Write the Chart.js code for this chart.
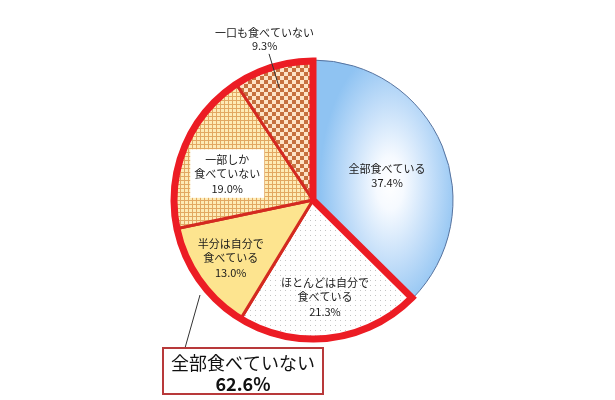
<!DOCTYPE html>
<html>
<head>
<meta charset="utf-8">
<script src="https://cdn.jsdelivr.net/npm/chart.js@4"></script>
<style>
  html,body{margin:0;padding:0;background:#fff;}
  #wrap{width:615px;height:400px;}
</style>
</head>
<body>
<div id="wrap"><canvas id="pie" width="615" height="400"></canvas></div>
<script>
// data
const categories = ['全部食べている','ほとんどは自分で食べている','半分は自分で食べている','一部しか食べていない','一口も食べていない'];
const labelLines = [['全部食べている'],['ほとんどは自分で','食べている'],['半分は自分で','食べている'],['一部しか','食べていない'],['一口も食べていない']];
const shares = [37.4, 21.3, 13.0, 19.0, 9.3];
const calloutLabel = '全部食べていない';
const calloutValue = 62.6;

// label placement (radius fraction, angle nudge in degrees)
const labelRadius = [0.556, 0.70, 0.72, 0.64, 1.2];
const labelNudge = [4.7, 0, 0, -5.5, 0];

const PAD = {left:173, right:162, top:60, bottom:60};
const RADIUS = 140;
const FONT = '"Noto Sans CJK JP", "Noto Sans", sans-serif';
const canvas = document.getElementById('pie');
const ctx = canvas.getContext('2d');

function tile(size, draw){
    const c = document.createElement('canvas');
    c.width = c.height = size;
    draw(c.getContext('2d'), size);
    return ctx.createPattern(c, 'repeat');
}

const dots = tile(5, (g,s)=>{ g.fillStyle='#fff'; g.fillRect(0,0,s,s); g.fillStyle='#c4c4c4'; g.fillRect(0,0,1,1); });
const grid = tile(4, (g,s)=>{ g.fillStyle='#fdebb6'; g.fillRect(0,0,s,s); g.fillStyle='#e2a862'; g.fillRect(0,0,s,1); g.fillRect(0,0,1,s); });
const checker = tile(8, (g,s)=>{ g.fillStyle='#fde3c6'; g.fillRect(0,0,s,s); g.fillStyle='#c6703e'; g.fillRect(0,0,4,4); g.fillRect(4,4,4,4); });

// soft blue fill, lighter towards the middle of the slice
function blueShade(){
    const W = canvas.width, H = canvas.height;
    const cx = (PAD.left + W - PAD.right)/2, cy = (PAD.top + H - PAD.bottom)/2;
    const off = document.createElement('canvas');
    off.width = W; off.height = H;
    const g = off.getContext('2d');
    g.save();
    g.translate(cx + RADIUS*0.55, cy - RADIUS*0.12);
    g.scale(1, 1.9);
    const gr = g.createRadialGradient(0,0,0,0,0,RADIUS*0.5);
    gr.addColorStop(0, '#ffffff');
    gr.addColorStop(0.2, '#f6faff');
    gr.addColorStop(0.6, '#c3def9');
    gr.addColorStop(1, '#8fc3f2');
    g.fillStyle = gr;
    g.fillRect(-W, -H, W*2, H*2);
    g.restore();
    return ctx.createPattern(off, 'no-repeat');
}
const blue = blueShade();

const decor = {
    id:'decor',
    afterDatasetsDraw(chart){
        const c = chart.ctx;
        const arcs = chart.getDatasetMeta(0).data;
        const cx = arcs[0].x, cy = arcs[0].y, r = arcs[0].outerRadius;

        // thick outline round the "not all eaten" slices
        c.save();
        c.beginPath();
        c.moveTo(cx, cy);
        c.arc(cx, cy, r-1, arcs[1].startAngle, arcs[arcs.length-1].endAngle);
        c.closePath();
        c.lineWidth = 7;
        c.lineJoin = 'miter';
        c.strokeStyle = '#ec1c24';
        c.stroke();
        c.restore();

        // slice labels
        c.save();
        c.textAlign = 'center';
        c.textBaseline = 'middle';
        c.font = '11px ' + FONT;
        arcs.forEach((arc,i)=>{
            const mid = (arc.startAngle+arc.endAngle)/2 + labelNudge[i]*Math.PI/180;
            const lines = labelLines[i].concat([shares[i].toFixed(1)+'%']);
            const outside = labelRadius[i] > 1;
            const lh = outside ? 12.5 : 14.5;
            const px = cx + Math.cos(mid)*r*labelRadius[i];
            const py = cy + Math.sin(mid)*r*labelRadius[i];
            const top = py - lh*(lines.length-1)/2;
            if(i === 3){
                const w = Math.max(...lines.map(t=>c.measureText(t).width)) + 8;
                c.fillStyle = '#fff';
                c.fillRect(px-w/2, top-lh/2-3, w, lh*lines.length+5);
            }
            if(outside){
                c.beginPath();
                c.moveTo(cx + Math.cos(mid)*r*0.83, cy + Math.sin(mid)*r*0.83);
                c.lineTo(cx + Math.cos(mid)*r*1.09, cy + Math.sin(mid)*r*1.09);
                c.lineWidth = 1;
                c.strokeStyle = '#333';
                c.stroke();
            }
            c.fillStyle = '#1a1a1a';
            lines.forEach((t,k)=>c.fillText(t, px, top + k*lh));
        });

        // callout
        c.beginPath();
        c.moveTo(cx-113, cy+95);
        c.lineTo(cx-128, cy+148);
        c.lineWidth = 1;
        c.strokeStyle = '#333';
        c.stroke();
        c.fillStyle = '#fff';
        c.fillRect(cx-150, cy+148, 160, 46);
        c.lineWidth = 2;
        c.strokeStyle = '#b8393a';
        c.strokeRect(cx-150, cy+148, 160, 46);
        c.fillStyle = '#111';
        c.font = '18px ' + FONT;
        c.fillText(calloutLabel, cx-70, cy+163);
        c.font = 'bold 18px ' + FONT;
        c.fillText(calloutValue.toFixed(1)+'%', cx-70, cy+184);
        c.restore();
    }
};

new Chart(ctx, {
    type:'pie',
    data:{
        labels: categories,
        datasets:[{
            data: shares,
            backgroundColor:[blue, dots, '#fde48f', grid, checker],
            borderColor:['#56739f','#d42a20','#d42a20','#d42a20','#d42a20'],
            borderWidth:[1,3,3,3,3]
        }]
    },
    options:{
        responsive:false,
        devicePixelRatio:1,
        animation:false,
        radius:RADIUS,
        layout:{padding:PAD},
        plugins:{legend:{display:false}, tooltip:{enabled:false}}
    },
    plugins:[decor]
});
</script>
</body>
</html>
